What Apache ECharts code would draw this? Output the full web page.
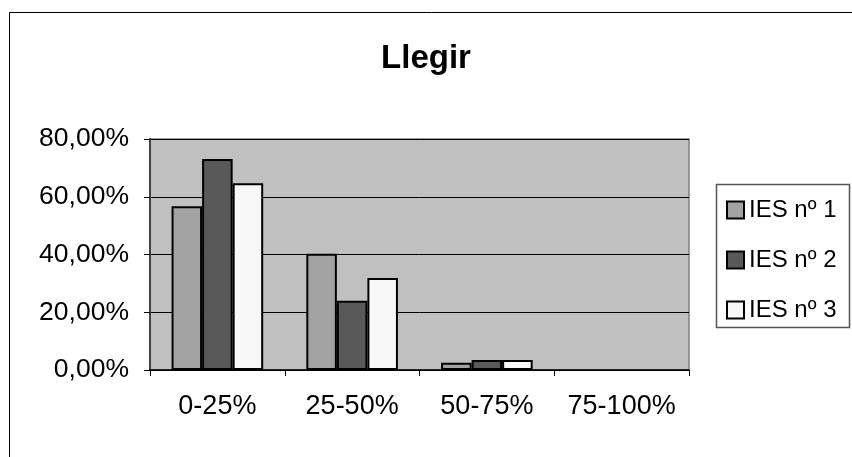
<!DOCTYPE html>
<html>
<head>
<meta charset="utf-8">
<script src="https://cdn.jsdelivr.net/npm/echarts@6/dist/echarts.min.js"></script>
<style>
  html, body { margin: 0; padding: 0; background: #fff; }
  #chart { width: 852px; height: 457px; }
</style>
</head>
<body>
<div id="chart"></div>
<script>
// Share of students per score band, by school (percent)
const categories = ['0-25%', '25-50%', '50-75%', '75-100%'];
const seriesNames = ['IES nº 1', 'IES nº 2', 'IES nº 3'];
const ies1 = [56.7, 40.3, 2.5, 0];
const ies2 = [73.1, 24.0, 3.5, 0];
const ies3 = [64.7, 31.9, 3.5, 0];
const yMin = 0, yMax = 80, yStep = 20;

const fills = ['#a3a3a3', '#595959', '#f8f8f8'];
const FONT = '"Liberation Sans", Arial, sans-serif';

const chart = echarts.init(document.getElementById('chart'), null, { renderer: 'canvas' });

const values = [ies1, ies2, ies3];
// Empty bands get no outline so nothing is drawn on the axis for them
const series = seriesNames.map((name, i) => ({
  name,
  type: 'bar',
  data: values[i].map(v => v === 0
    ? { value: v, itemStyle: { borderWidth: 0 } }
    : v),
  barGap: '0%',
  barCategoryGap: '32%',
  itemStyle: { color: fills[i], borderColor: '#000', borderWidth: 2 }
}));

chart.setOption({
  animation: false,
  backgroundColor: '#fff',
  title: {
    text: 'Llegir',
    left: 'center',
    top: 37,
    textStyle: { fontFamily: FONT, fontSize: 33, fontWeight: 'bold', color: '#000' }
  },
  graphic: [
    { type: 'rect', shape: { x: 9.5, y: 12.5, width: 900, height: 500 },
      style: { fill: 'none', stroke: '#000', lineWidth: 1 }, z: -1 },
    { type: 'rect', shape: { x: 716.5, y: 184.5, width: 133, height: 143 },
      style: { fill: '#fff', stroke: '#555', lineWidth: 1.5 }, z: -1 }
  ],
  legend: {
    orient: 'vertical',
    left: 726,
    top: 198,
    itemWidth: 17,
    itemHeight: 17,
    itemGap: 26,
    icon: 'rect',
    padding: 0,
    textStyle: { fontFamily: FONT, fontSize: 24, color: '#000' },
    data: seriesNames.map((n, i) => ({
      name: n,
      itemStyle: { color: fills[i], borderColor: '#000', borderWidth: 2 }
    }))
  },
  grid: {
    left: 150, top: 139, right: 163, bottom: 87,
    show: true, backgroundColor: '#c0c0c0', borderColor: '#808080', borderWidth: 1.5
  },
  xAxis: {
    type: 'category',
    data: categories,
    axisLine: { lineStyle: { color: '#000', width: 1.5 } },
    axisTick: { show: true, length: 6, lineStyle: { color: '#000' } },
    axisLabel: { fontFamily: FONT, fontSize: 27, color: '#000', margin: 23, interval: 0 }
  },
  yAxis: {
    type: 'value',
    min: yMin, max: yMax, interval: yStep,
    axisLine: { show: true, lineStyle: { color: '#444', width: 2 } },
    axisTick: { show: true, length: 6, lineStyle: { color: '#000' } },
    splitLine: { lineStyle: { color: '#000', width: 1 } },
    axisLabel: {
      fontFamily: FONT, fontSize: 26.5, color: '#000', margin: 21,
      formatter: v => v.toFixed(2).replace('.', ',') + '%'
    }
  },
  series
});
</script>
</body>
</html>
